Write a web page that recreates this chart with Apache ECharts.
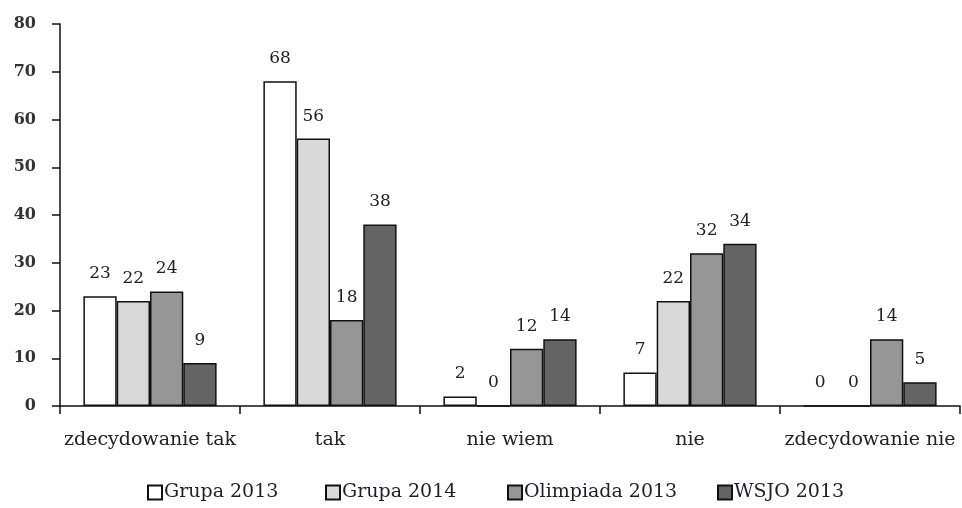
<!DOCTYPE html>
<html><head><meta charset="utf-8">
<script src="https://cdn.jsdelivr.net/npm/echarts@6/dist/echarts.min.js"></script>
<style>html,body{margin:0;padding:0;background:#fff}#c{width:962px;height:508px}</style>
</head><body><div id="c"></div>
<script>
var categories = ['zdecydowanie tak', 'tak', 'nie wiem', 'nie', 'zdecydowanie nie'];
var seriesNames = ['Grupa 2013', 'Grupa 2014', 'Olimpiada 2013', 'WSJO 2013'];
var grupa2013 = [23, 68, 2, 7, 0];
var grupa2014 = [22, 56, 0, 22, 0];
var olimpiada2013 = [24, 18, 12, 32, 14];
var wsjo2013 = [9, 38, 14, 34, 5];
var colors = ['#ffffff', '#d9d9d9', '#969696', '#646464'];
var allData = [grupa2013, grupa2014, olimpiada2013, wsjo2013];
var legendLeft = [147, 325, 507, 717];
var font = '"DejaVu Serif", "Liberation Serif", serif';
var chart = echarts.init(document.getElementById('c'));
chart.setOption({
  animation: false,
  backgroundColor: '#fff',
  grid: {left: 60, right: 2, top: 24, bottom: 102},
  legend: seriesNames.map(function (n, i) {
    return {
      data: [n], left: legendLeft[i], top: 483, itemWidth: 14, itemHeight: 14, padding: 0,
      icon: 'rect', selectedMode: false,
      textStyle: {fontFamily: font, fontSize: 19, color: '#1f1f2a', padding: [0,0,0,-3]}
    };
  }),
  xAxis: {
    type: 'category', data: categories,
    axisLine: {lineStyle: {color: '#111', width: 1.5}},
    axisTick: {show: true, interval: 0, length: 8, lineStyle: {color: '#111', width: 1.5}},
    axisLabel: {interval: 0, fontFamily: font, fontSize: 19, color: '#222', margin: 25}
  },
  yAxis: {
    type: 'value', min: 0, max: 80, interval: 10,
    axisLine: {show: true, lineStyle: {color: '#111', width: 1.5}},
    axisTick: {show: true, length: 8, lineStyle: {color: '#111', width: 1.5}},
    splitLine: {show: false},
    axisLabel: {fontFamily: font, fontSize: 16, fontWeight: 'bold', color: '#333', margin: 24}
  },
  series: allData.map(function (d, i) {
    return {
      name: seriesNames[i], type: 'bar', data: d,
      barGap: '0%', barCategoryGap: '26%',
      itemStyle: {color: colors[i], borderColor: '#111', borderWidth: 1.5},
      label: {show: true, position: 'top', distance: 14, fontFamily: font, fontSize: 17, color: '#222'}
    };
  })
});
</script></body></html>
